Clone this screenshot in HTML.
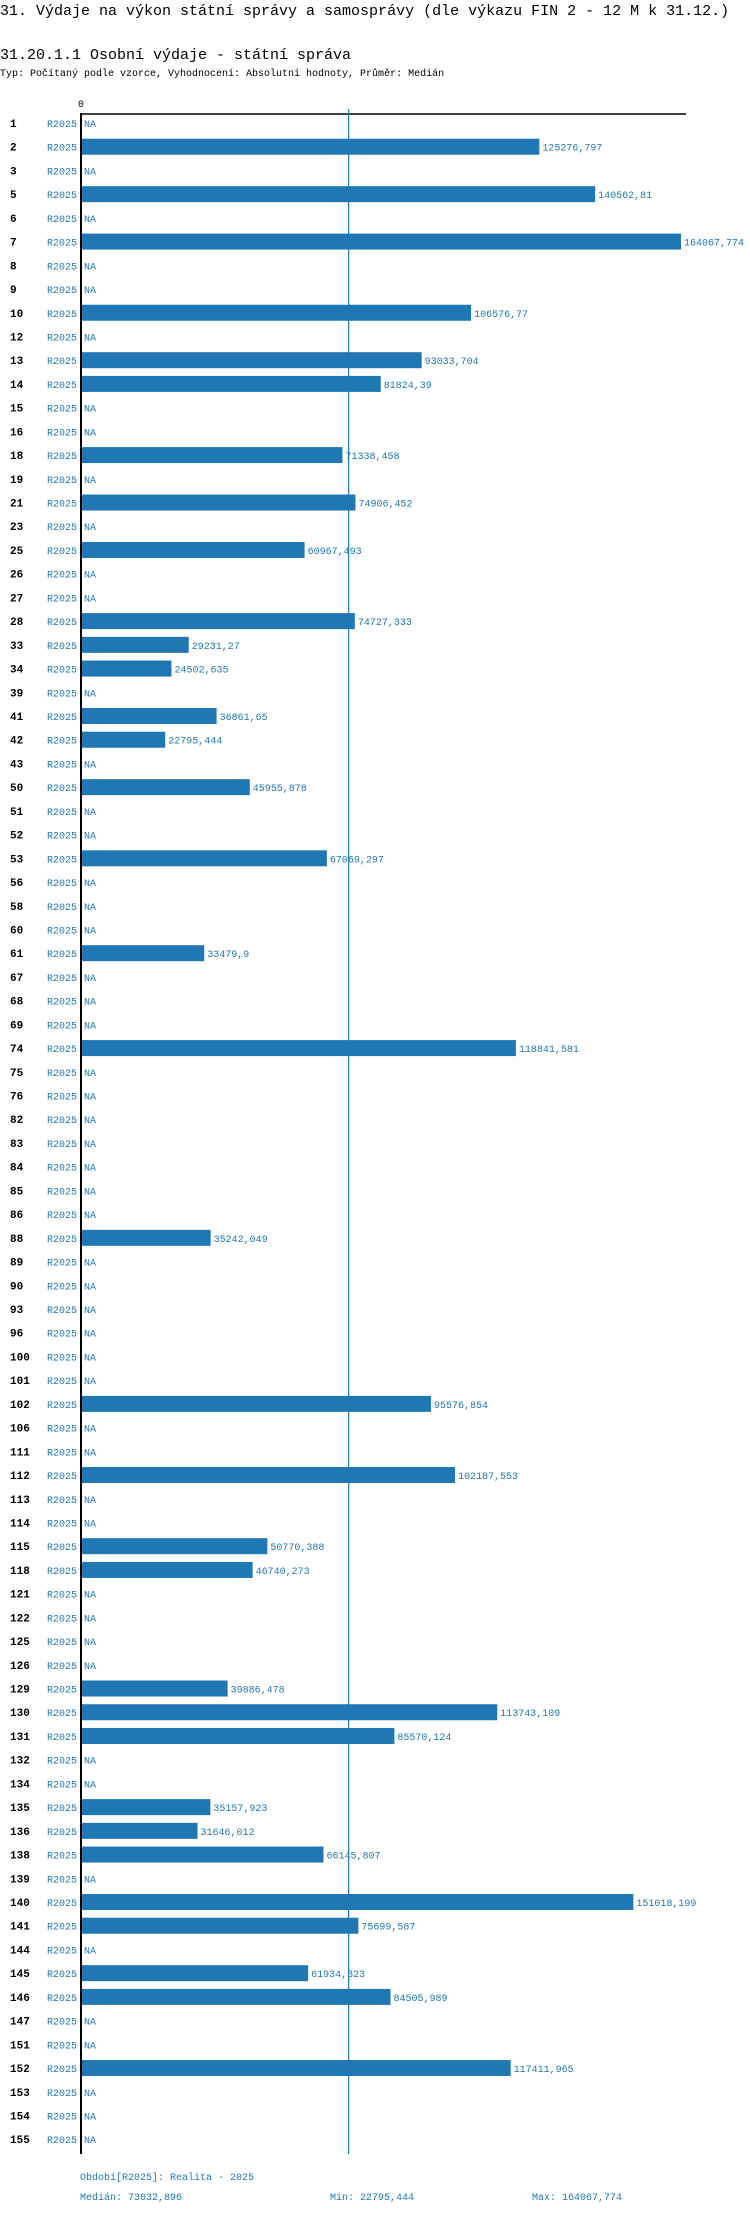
<!DOCTYPE html>
<html><head><meta charset="utf-8"><style>
body{margin:0;background:#fff;width:750px;height:2214px;overflow:hidden;font-family:"Liberation Mono","DejaVu Sans Mono",monospace}
svg{display:block}
</style></head><body>
<svg id="chart" width="750" height="2214">
<text x="0" y="15" font-size="15" fill="#000">31. Výdaje na výkon státní správy a samosprávy (dle výkazu FIN 2 - 12 M k 31.12.)</text>
<text x="0" y="59" font-size="15" fill="#000">31.20.1.1 Osobní výdaje - státní správa</text>
<text x="0" y="76" font-size="10" fill="#000">Typ: Počítaný podle vzorce, Vyhodnocení: Absolutní hodnoty, Průměr: Medián</text>
<text x="78" y="107" font-size="10" fill="#000">0</text>
<g id="rows"></g>
<line x1="80" y1="114" x2="686" y2="114" stroke="#000" stroke-width="1.5"/>
<line x1="81" y1="113" x2="81" y2="2154" stroke="#000" stroke-width="2"/>
<line id="median" y1="109" y2="2154" stroke="#1f77b4" stroke-width="1.2"/>
<text x="80" y="2180" font-size="10" fill="#1f77b4">Období[R2025]: Realita - 2025</text>
<text x="80" y="2200" font-size="10" fill="#1f77b4">Medián: 73032,896</text>
<text x="330" y="2200" font-size="10" fill="#1f77b4">Min: 22795,444</text>
<text x="532" y="2200" font-size="10" fill="#1f77b4">Max: 164067,774</text>
</svg>
<script>
const categories=[1,2,3,5,6,7,8,9,10,12,13,14,15,16,18,19,21,23,25,26,27,28,33,34,39,41,42,43,50,51,52,53,56,58,60,61,67,68,69,74,75,76,82,83,84,85,86,88,89,90,93,96,100,101,102,106,111,112,113,114,115,118,121,122,125,126,129,130,131,132,134,135,136,138,139,140,141,144,145,146,147,151,152,153,154,155];
const values=[null,125276.797,null,140562.81,null,164067.774,null,null,106576.77,null,93033.704,81824.39,null,null,71338.458,null,74906.452,null,60967.493,null,null,74727.333,29231.27,24502.635,null,36861.65,22795.444,null,45955.878,null,null,67069.297,null,null,null,33479.9,null,null,null,118841.581,null,null,null,null,null,null,null,35242.049,null,null,null,null,null,null,95576.854,null,null,102187.553,null,null,50770.388,46740.273,null,null,null,null,39886.478,113743.109,85570.124,null,null,35157.923,31646.012,66145.807,null,151018.199,75699.587,null,61934.323,84505.989,null,null,117411.965,null,null,null];
const medianValue=73032.896;
const x0=82, pxPerUnit=599/164067.774;
function xs(v){return x0+v*pxPerUnit;}
function yc(i){return 123+i*23.72;}
function fmt(v){return String(v).replace('.',',');}
const NS='http://www.w3.org/2000/svg';
const g=document.getElementById('rows');
function mk(tag,attrs,text){const e=document.createElementNS(NS,tag);for(const k in attrs)e.setAttribute(k,attrs[k]);if(text!==undefined)e.textContent=text;g.appendChild(e);return e;}
categories.forEach((c,i)=>{
  const y=yc(i);
  const lab=mk('text',{x:10,y:y+4,'font-size':11,'font-weight':'bold',fill:'#000'},String(c));
  
  
  const per=mk('text',{x:77,y:y+4,'font-size':10,fill:'#1f77b4','text-anchor':'end'},'R2025');
  
  
  const v=values[i];
  if(v===null){
    const na=mk('text',{x:84,y:y+4,'font-size':10,fill:'#1f77b4'},'NA');
    
    
  }else{
    const b=mk('rect',{x:x0,y:y-8,width:xs(v)-x0,height:16,fill:'#1f77b4'});
    
    
    const t=mk('text',{x:xs(v)+3,y:y+4,'font-size':10,fill:'#1f77b4'},fmt(v));
    
    
  }
});
const m=document.getElementById('median');
m.setAttribute('x1',xs(medianValue));m.setAttribute('x2',xs(medianValue));
</script>
</body></html>
